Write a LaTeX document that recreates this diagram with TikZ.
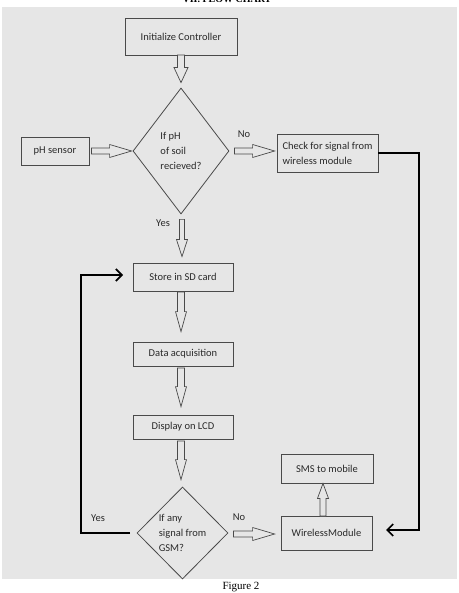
\documentclass[tikz,border=0pt]{standalone}
\usepackage{fontspec}
\setmainfont{Liberation Serif}
\newfontfamily\calfont{Carlito}
\usetikzlibrary{calc,shapes.geometric,arrows.meta}
\definecolor{bggray}{HTML}{E6E6E6}
\definecolor{linegray}{HTML}{4A4A4A}
\definecolor{txtgray}{HTML}{2A2A2A}
\tikzset{
  stepbox/.style={draw=linegray, line width=0.8pt, fill=bggray, inner sep=0pt, text=txtgray,
     font=\calfont\fontsize{10.5}{15}\selectfont},
  decision/.style={draw=linegray, line width=0.8pt, shape=diamond, inner sep=0pt, text=txtgray,
     align=left, font=\calfont\fontsize{10.5}{15}\selectfont},
  hollow/.style={draw=linegray, line width=0.7pt, fill=bggray, line join=miter},
  thickline/.style={draw=black, line width=1.7pt},
  lbl/.style={text=txtgray, font=\calfont\fontsize{10.5}{12}\selectfont, inner sep=0pt}
}
% hollow block arrows: start, end, head length, head half width, shaft half width
\newcommand\hdownarrow[5]{%
  \coordinate (hS) at (#1); \coordinate (hT) at (#1|-#2);
  \draw[hollow] ($(hS)+(-#5,0)$) -- ($(hS)+(#5,0)$) -- ($(hT)+(#5,-#3)$) -- ($(hT)+(#4,-#3)$)
    -- (hT) -- ($(hT)+(-#4,-#3)$) -- ($(hT)+(-#5,-#3)$) -- cycle;}
\newcommand\huparrow[5]{%
  \coordinate (hS) at (#1); \coordinate (hT) at (#1|-#2);
  \draw[hollow] ($(hS)+(-#5,0)$) -- ($(hS)+(#5,0)$) -- ($(hT)+(#5,#3)$) -- ($(hT)+(#4,#3)$)
    -- (hT) -- ($(hT)+(-#4,#3)$) -- ($(hT)+(-#5,#3)$) -- cycle;}
\newcommand\hrightarrow[5]{%
  \coordinate (hS) at (#1); \coordinate (hT) at (#2|-#1);
  \draw[hollow] ($(hS)+(0,-#5)$) -- ($(hS)+(0,#5)$) -- ($(hT)+(-#3,#5)$) -- ($(hT)+(-#3,#4)$)
    -- (hT) -- ($(hT)+(-#3,-#4)$) -- ($(hT)+(-#3,-#5)$) -- cycle;}
\begin{document}
\begin{tikzpicture}[x=1pt,y=-1pt]
\useasboundingbox (0,0) rectangle (458,593);
\fill[bggray] (2,7) rectangle (457,579);
\node[font=\bfseries\fontsize{10}{12}\selectfont, anchor=base, inner sep=0pt] (title) at (227,2.5) {VII. FLOW CHART};
\node[font=\fontsize{11}{12}\selectfont, text=black] (cap) at (241,587) {Figure 2};

% nodes
\node[stepbox, minimum width=112pt, minimum height=37pt] (init) at (181,36.5) {Initialize Controller};
\node[decision, minimum width=96pt, minimum height=126pt] (d1) at (181,151) {If pH\\of soil\\recieved?};
\node[stepbox, minimum width=68pt, minimum height=28pt] (ph) at (55,151) {pH sensor\hspace{5pt}};
\node[stepbox, minimum width=101pt, minimum height=38pt, align=left] (chk) at (327.5,153) {Check for signal from\\wireless module};
\node[stepbox, minimum width=100pt, minimum height=28pt] (sd) at (183,277) {Store in SD card};
\node[stepbox, minimum width=100pt, minimum height=24pt] (da) at (183,354) {Data acquisition};
\node[stepbox, minimum width=100pt, minimum height=24pt] (lcd) at (183,427) {Display on LCD};
\node[decision, minimum width=91pt, minimum height=92pt] (d2) at (182.5,533) {If any\\signal from\\GSM?};
\node[stepbox, minimum width=91pt, minimum height=34pt] (wm) at (326.5,533) {WirelessModule};
\node[stepbox, minimum width=92pt, minimum height=29pt] (sms) at (327,468.5) {SMS to mobile};

% labels
\node[lbl] (no1) at (244,134) {No};
\node[lbl] (yes1) at (163,223) {Yes};
\node[lbl] (yes2) at (98,518) {Yes};
\node[lbl] (no2) at (239,517) {No};

% hollow arrows
\coordinate (a1s) at (181,55);
\coordinate (a1e) at ($(d1.north)+(0,-5)$);
\hdownarrow{a1s}{a1e}{15}{7}{3.5}
\coordinate (a2s) at ($(ph.east)+(2,0)$);
\coordinate (a2e) at ($(d1.west)+(-1,0)$);
\hrightarrow{a2s}{a2e}{22}{6.5}{3}
\coordinate (a3s) at ($(d1.east)+(5,0)$);
\coordinate (a3e) at ($(chk.west)+(-2,0)$);
\hrightarrow{a3s}{a3e}{22}{6.5}{3}
\coordinate (a4s) at ($(d1.south)+(1,5)$);
\coordinate (a4e) at ($(sd.north)+(0,-6)$);
\hdownarrow{a4s}{a4e}{17}{5.5}{2.5}
\coordinate (a5s) at (181,292);
\coordinate (a5e) at ($(da.north)+(0,-10)$);
\hdownarrow{a5s}{a5e}{20}{5.5}{3.5}
\coordinate (a6s) at (181,368);
\coordinate (a6e) at ($(lcd.north)+(0,-8)$);
\hdownarrow{a6s}{a6e}{20}{5.5}{3.5}
\coordinate (a7s) at (181,441);
\coordinate (a7e) at ($(d2.north)+(0,-7)$);
\hdownarrow{a7s}{a7e}{20}{5.5}{3.5}
\coordinate (a8s) at ($(d2.east)+(5,1)$);
\coordinate (a8e) at ($(wm.west)+(-6,0)$);
\hrightarrow{a8s}{a8e}{22}{6.5}{3}
\coordinate (a9s) at (323,516);
\coordinate (a9e) at ($(sms.south)+(0,0)$);
\huparrow{a9s}{a9e}{15}{5.5}{3}

% thick connectors
\coordinate (rbot) at (419,530);
\coordinate (rend) at (386,530);
\draw[thickline, -{Straight Barb[length=6pt,width=12pt]}] (chk.east) -| (rbot) -- (rend);
\coordinate (lstart) at (130,533);
\coordinate (lx) at (81,400);
\coordinate (lend) at (123,275);
\draw[thickline, -{Straight Barb[length=6pt,width=12pt]}] (lstart) -| (lx) |- (lend);
\end{tikzpicture}
\end{document}
